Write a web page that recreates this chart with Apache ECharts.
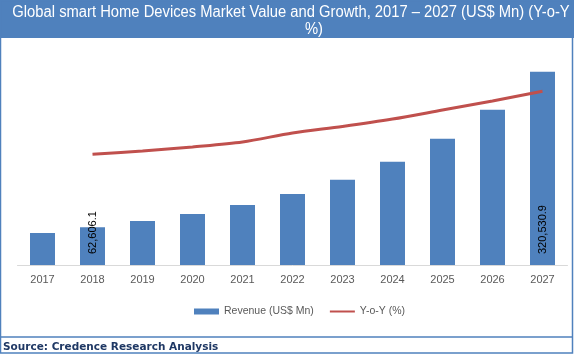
<!DOCTYPE html>
<html>
<head>
<meta charset="UTF-8">
<title>Global smart Home Devices Market</title>
<script src="https://cdn.jsdelivr.net/npm/echarts@6/dist/echarts.min.js"></script>
<style>
html, body { margin: 0; padding: 0; background: #fff; }
#chart { width: 574px; height: 354px; }
</style>
</head>
<body>
<div id="chart"></div>
<script>
// values (US$ Mn and Y-o-Y %)
var years = ['2017', '2018', '2019', '2020', '2021', '2022', '2023', '2024', '2025', '2026', '2027'];
var revenue = [53100, 62606.1, 73100, 84700, 99600, 117900, 141200, 171100, 209300, 257400, 320530.9];
var yoy = [null, 13.5, 13.9, 14.4, 15.0, 16.1, 16.9, 17.8, 18.9, 20.0, 21.2];
var labelled = [1, 10];

var blue = '#4F81BD';
var red = '#C0504D';

var barData = revenue.map(function (v, i) {
    if (labelled.indexOf(i) < 0) return v;
    return {
        value: v,
        label: {
            show: true,
            position: 'insideBottom',
            rotate: 90,
            align: 'left',
            verticalAlign: 'middle',
            distance: 11,
            color: '#000',
            fontSize: 11,
            fontFamily: 'Liberation Sans',
            formatter: function (p) {
                return p.value.toLocaleString('en-US', {minimumFractionDigits: 1});
            }
        }
    };
});

var chart = echarts.init(document.getElementById('chart'));
chart.setOption({
    animation: false,
    backgroundColor: '#fff',
    textStyle: {fontFamily: 'Liberation Sans'},
    graphic: [
        {type: 'rect', z: -1, shape: {x: 0, y: 0, width: 574, height: 38}, style: {fill: blue}},
        {type: 'rect', z: -1, shape: {x: 0.5, y: 0.5, width: 572, height: 352.5},
            style: {fill: null, stroke: blue, lineWidth: 1.5}},
        {type: 'line', z: -1, shape: {x1: 0, y1: 337, x2: 573, y2: 337},
            style: {stroke: blue, lineWidth: 1.5}},
        // title, two lines, a little narrowed like the original
        {type: 'text', x: 291, y: 4.5, scaleX: 0.923,
            style: {text: 'Global smart Home Devices Market Value and Growth, 2017 \u2013 2027 (US$ Mn) (Y-o-Y',
                fill: '#fff', font: '16px "Liberation Sans"', align: 'center', verticalAlign: 'top'}},
        {type: 'text', x: 314, y: 22, scaleX: 0.923,
            style: {text: '%)', fill: '#fff', font: '16px "Liberation Sans"', align: 'center', verticalAlign: 'top'}},
        {type: 'text', x: 3, y: 341.5, scaleX: 0.955,
            style: {text: 'Source: Credence Research Analysis', fill: '#1F3864',
                font: 'bold 11px "DejaVu Sans"', verticalAlign: 'top'}}
    ],
    legend: {
        left: 189,
        top: 301,
        itemGap: 15,
        itemWidth: 25,
        itemHeight: 6,
        textStyle: {color: '#595959', fontSize: 10.5},
        data: [
            {name: 'Revenue (US$ Mn)', icon: 'rect'},
            {name: 'Y-o-Y (%)', itemStyle: {opacity: 0}}
        ]
    },
    grid: {left: 17.5, right: 6.5, top: 60, bottom: 89},
    xAxis: {
        type: 'category',
        data: years,
        axisLine: {lineStyle: {color: '#D9D9D9', width: 1}},
        axisTick: {show: false},
        axisLabel: {color: '#595959', fontSize: 11, margin: 9}
    },
    yAxis: [
        {type: 'value', min: 0, max: 340000, show: false, splitLine: {show: false}},
        {type: 'value', min: 0, max: 25, show: false, splitLine: {show: false}}
    ],
    series: [
        {
            name: 'Revenue (US$ Mn)',
            type: 'bar',
            data: barData,
            barWidth: 25,
            itemStyle: {color: blue}
        },
        {
            name: 'Y-o-Y (%)',
            type: 'line',
            yAxisIndex: 1,
            data: yoy,
            smooth: 0.3,
            symbol: 'none',
            lineStyle: {color: red, width: 3},
            itemStyle: {color: red}
        }
    ]
});
</script>
</body>
</html>
